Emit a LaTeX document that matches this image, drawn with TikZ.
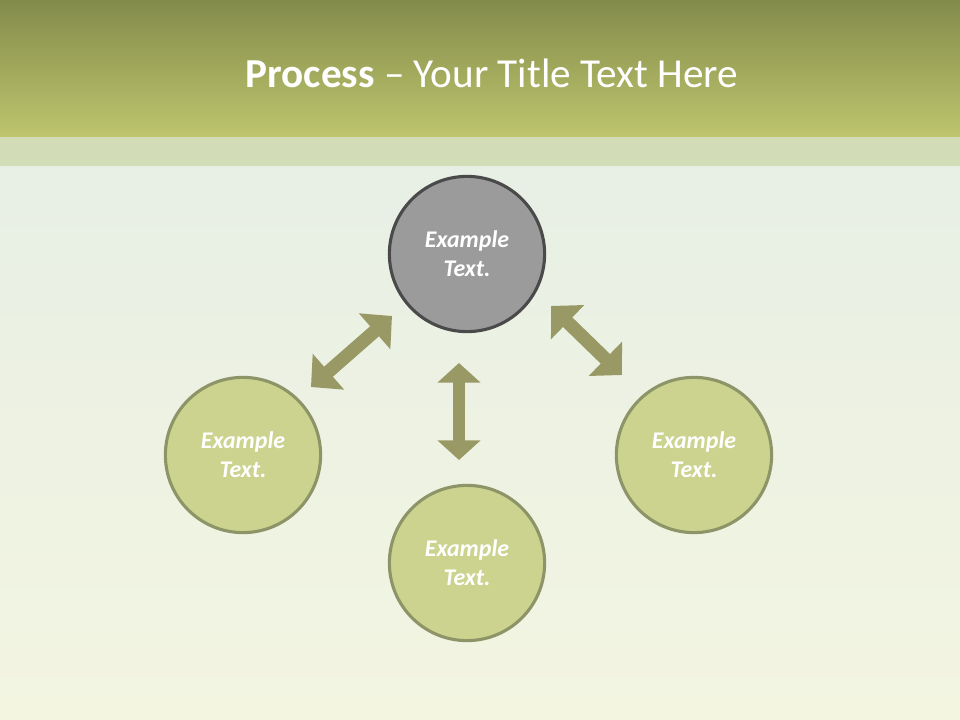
\documentclass[tikz,border=0pt]{standalone}
\usepackage{fontspec}
\setmainfont{Carlito}
\usetikzlibrary{arrows.meta}

\definecolor{headtop}{HTML}{838B4B}
\definecolor{headbot}{HTML}{BEC56D}
\definecolor{bandc}{HTML}{D2DCB6}
\definecolor{bgtop}{HTML}{E4EDE5}
\definecolor{bgbot}{HTML}{F3F5E1}
\definecolor{greyfill}{HTML}{9B9B9B}
\definecolor{greyline}{HTML}{4A4A4A}
\definecolor{greenfill}{HTML}{CCD38F}
\definecolor{greenline}{HTML}{8D9467}
\definecolor{arrowc}{HTML}{999966}

\begin{document}
\begin{tikzpicture}[
    x=0.025cm, y=-0.025cm,
    step node/.style={circle,draw=greenline,fill=greenfill,line width=2.2pt,
        minimum size=3.88cm,inner sep=0pt,text=white,align=center,
        font=\fontsize{17}{20.5}\selectfont\bfseries\itshape},
    main node/.style={step node,draw=greyline,fill=greyfill},
    link/.style={arrowc,line width=8.5pt,
        {Triangle[width=30pt,length=14pt]}-{Triangle[width=30pt,length=14pt]}},
    diag link/.style={arrowc,line width=9.5pt,
        {Triangle[width=33pt,length=16.5pt]}-{Triangle[width=33pt,length=16.5pt]}}
]
    % background
    \shade[top color=bgtop,bottom color=bgbot] (0,0) rectangle (960,720);
    \shade[top color=headtop,bottom color=headbot] (0,0) rectangle (960,137);
    \fill[bandc] (0,137) rectangle (960,166);
    \node[text=white,anchor=base,font=\fontsize{29.3}{35}\selectfont] (title) at (492,88)
        {\textbf{Process} – Your Title Text Here};

    \node[main node] (1) at (467,254) {Example\\Text.};
    \node[step node] (2) at (243,455) {Example\\Text.};
    \node[step node] (3) at (467,563) {Example\\Text.};
    \node[step node] (4) at (694,455) {Example\\Text.};

    \coordinate (a1) at (392,316);
    \coordinate (a2) at (311,387);
    \coordinate (b1) at (459,363);
    \coordinate (b2) at (459,460);
    \coordinate (c1) at (551,306);
    \coordinate (c2) at (622,375);

    \draw[diag link] (a1) -- (a2);
    \draw[link] (b1) -- (b2);
    \draw[diag link] (c1) -- (c2);
\end{tikzpicture}
\end{document}
